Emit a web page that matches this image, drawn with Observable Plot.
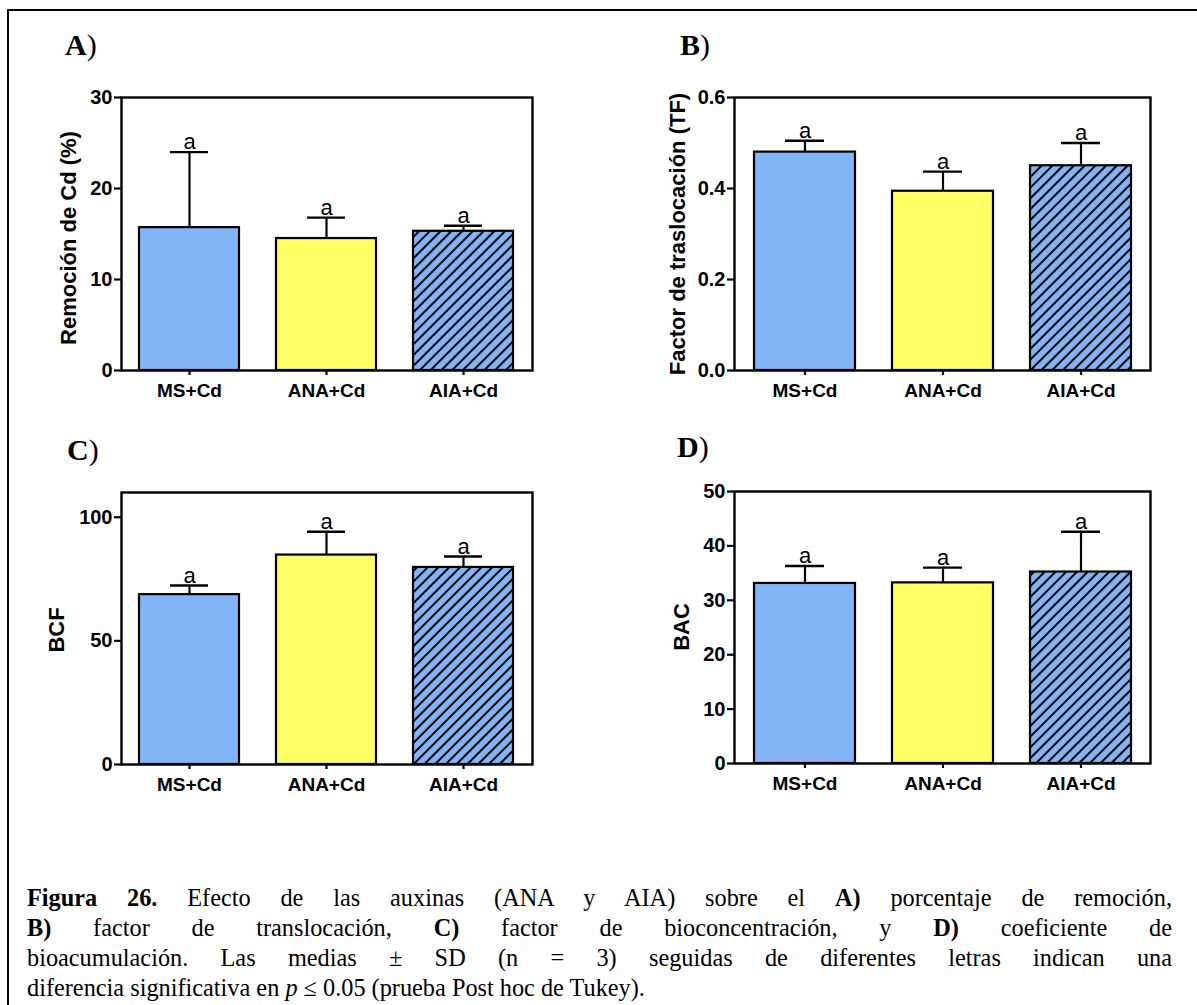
<!DOCTYPE html>
<html>
<head>
<meta charset="utf-8">
<script src="https://cdn.jsdelivr.net/npm/d3@7"></script>
<script src="https://cdn.jsdelivr.net/npm/@observablehq/plot@0.6"></script>
<style>
html,body{margin:0;padding:0;background:#fff;}
#fig{position:relative;width:1197px;height:1005px;overflow:hidden;background:#fff;}
#box{position:absolute;left:7px;top:9px;width:1250px;height:1100px;border-left:2px solid #000;border-top:2px solid #000;}
.panel{position:absolute;}
.plabel{position:absolute;font-family:"Liberation Serif",serif;font-size:30px;line-height:30px;color:#000;white-space:nowrap;}
.ytitle{position:absolute;font-family:"Liberation Sans",Arial,sans-serif;font-weight:bold;font-size:22px;line-height:26px;white-space:nowrap;transform:translate(-50%,-50%) rotate(-90deg);color:#000;}
#caption{position:absolute;left:27px;top:883px;width:1145px;font-family:"Liberation Serif",serif;font-size:24.3px;line-height:30px;color:#000;}
#caption .j{text-align:justify;text-align-last:justify;}
</style>
</head>
<body>
<div id="fig">
  <div id="box"></div>
  <div id="caption">
    <div class="j"><b>Figura 26.</b> Efecto de las auxinas (ANA y AIA) sobre el <b>A)</b> porcentaje de remoción,</div>
    <div class="j"><b>B)</b> factor de translocación, <b>C)</b> factor de bioconcentración, y <b>D)</b> coeficiente de</div>
    <div class="j">bioacumulación. Las medias ± SD (n = 3) seguidas de diferentes letras indican una</div>
    <div>diferencia significativa en <i>p</i> ≤ 0.05 (prueba Post hoc de Tukey).</div>
  </div>
</div>
<script>
// ---- data ----
const categories = ["MS+Cd", "ANA+Cd", "AIA+Cd"];
const letters = ["a", "a", "a"];

const meansA = [15.7, 14.5, 15.3];
const sdA = [8.3, 2.3, 0.6];
const ticksA = [0, 10, 20, 30];

const meansB = [0.48, 0.394, 0.45];
const sdB = [0.025, 0.043, 0.05];
const ticksB = [0, 0.2, 0.4, 0.6];

const meansC = [68.7, 84.7, 79.7];
const sdC = [3.7, 9.4, 4.4];
const ticksC = [0, 50, 100];

const meansD = [33.1, 33.2, 35.2];
const sdD = [3.2, 2.8, 7.4];
const ticksD = [0, 10, 20, 30, 40, 50];

const titles = ["Remoción de Cd (%)", "Factor de traslocación (TF)", "BCF", "BAC"];
const panelLetters = ["A", "B", "C", "D"];

// ---- styles ----
const BLUE = "#82b4f6";
const YELLOW = "#ffff66";

const fig = document.getElementById("fig");

function makePanel(p) {
  const fills = [BLUE, YELLOW, `url(#hatch${p.id})`];
  const data = categories.map((c, i) => ({cat: c, mean: p.means[i], sd: p.sds[i], letter: letters[i], fill: fills[i]}));
  const svg = Plot.plot({
    width: p.w, height: p.h,
    marginLeft: p.ml, marginRight: p.mr, marginTop: p.mt, marginBottom: p.mb,
    style: {fontFamily: "'Liberation Sans', Arial, sans-serif", fontWeight: "bold", fontSize: "20px", color: "#000", background: "transparent", overflow: "visible"},
    x: {domain: categories, paddingInner: 0.27, paddingOuter: 0.133, label: null},
    y: {domain: p.domain, label: null},
    color: {type: "identity"},
    marks: [
      Plot.barY(data, {x: "cat", y: "mean", fill: "fill", stroke: "#000", strokeWidth: 2.2}),
      Plot.ruleX(data, {x: "cat", y1: "mean", y2: d => d.mean + d.sd, stroke: "#000", strokeWidth: 2.2}),
      Plot.tickY(data, {x: "cat", y: d => d.mean + d.sd, stroke: "#000", strokeWidth: 2.4, insetLeft: 31, insetRight: 31}),
      Plot.text(data, {x: "cat", y: d => d.mean + d.sd, text: "letter", dy: -10, fontSize: 22, fontWeight: "normal", fill: "#000"}),
      Plot.axisY({ticks: p.ticks, tickFormat: p.fmt, tickSize: 7, tickPadding: 2, strokeWidth: 2.2, label: null, fontSize: 20, fontWeight: "bold"}),
      Plot.axisX({tickSize: 5, tickPadding: 8, strokeWidth: 2.2, label: null, fontSize: 19, fontWeight: "bold"}),
      Plot.frame({stroke: "#000", strokeWidth: 2.4})
    ]
  });
  const ns = "http://www.w3.org/2000/svg";
  const defs = document.createElementNS(ns, "defs");
  defs.innerHTML = `<pattern id="hatch${p.id}" patternUnits="userSpaceOnUse" width="7.6" height="7.6" patternTransform="rotate(45)"><rect x="0" y="0" width="7.6" height="7.6" fill="${BLUE}"/><line x1="3.8" y1="-1" x2="3.8" y2="8.6" stroke="#000" stroke-width="2"/></pattern>`;
  svg.insertBefore(defs, svg.firstChild);
  const wrap = document.createElement("div");
  wrap.className = "panel";
  wrap.style.left = p.left + "px";
  wrap.style.top = p.top + "px";
  wrap.appendChild(svg);
  fig.appendChild(wrap);

  const lab = document.createElement("div");
  lab.className = "plabel";
  lab.innerHTML = `<b>${p.letter}</b>)`;
  lab.style.left = p.lx + "px";
  lab.style.top = p.ly + "px";
  fig.appendChild(lab);

  const t = document.createElement("div");
  t.className = "ytitle";
  t.textContent = p.title;
  t.style.left = p.tx + "px";
  t.style.top = p.ty + "px";
  fig.appendChild(t);
}

makePanel({id: "A", letter: panelLetters[0], title: titles[0], means: meansA, sds: sdA, ticks: ticksA, domain: [0, 30], fmt: d3.format("d"),
  left: 0, top: 0, w: 600, h: 420, ml: 121, mr: 68, mt: 97, mb: 50, lx: 65, ly: 30, tx: 69, ty: 238});
makePanel({id: "B", letter: panelLetters[1], title: titles[1], means: meansB, sds: sdB, ticks: ticksB, domain: [0, 0.6], fmt: d3.format(".1f"),
  left: 600, top: 0, w: 597, h: 420, ml: 134, mr: 47, mt: 97, mb: 50, lx: 680, ly: 30, tx: 678, ty: 234});
makePanel({id: "C", letter: panelLetters[2], title: titles[2], means: meansC, sds: sdC, ticks: ticksC, domain: [0, 110], fmt: d3.format("d"),
  left: 0, top: 420, w: 600, h: 400, ml: 121, mr: 68, mt: 72, mb: 56, lx: 67, ly: 435, tx: 57, ty: 630});
makePanel({id: "D", letter: panelLetters[3], title: titles[3], means: meansD, sds: sdD, ticks: ticksD, domain: [0, 50], fmt: d3.format("d"),
  left: 600, top: 420, w: 597, h: 400, ml: 134, mr: 47, mt: 71, mb: 57, lx: 677, ly: 432, tx: 682, ty: 627});
</script>
</body>
</html>
